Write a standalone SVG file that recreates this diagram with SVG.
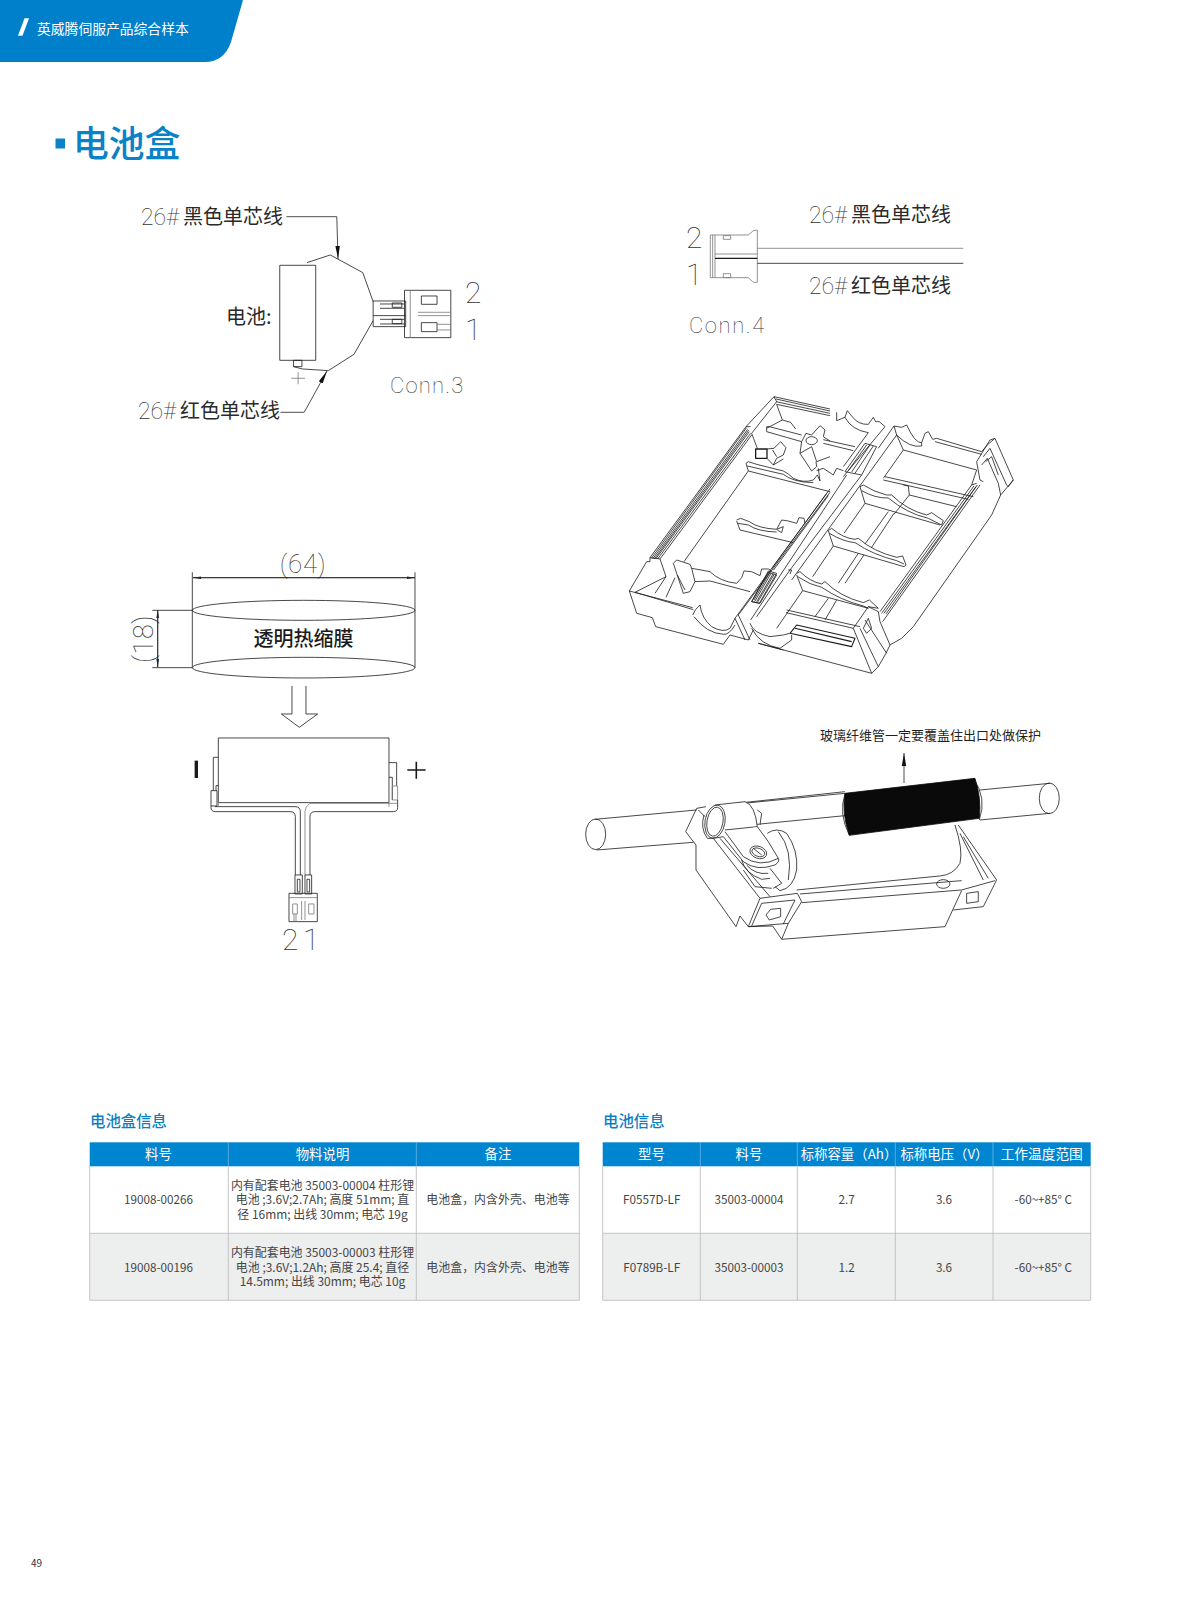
<svg xmlns="http://www.w3.org/2000/svg" width="1178" height="1600" viewBox="0 0 1178 1600">
<defs>
<marker id="ah" markerUnits="userSpaceOnUse" markerWidth="14" markerHeight="8" refX="13" refY="4" orient="auto"><path d="M0,1.8 L13,4 L0,6.2 Z" fill="#111"/></marker>
<marker id="dim" markerUnits="userSpaceOnUse" markerWidth="9" markerHeight="6" refX="8" refY="3" orient="auto"><path d="M0,1.7 L8,3 L0,4.3 Z" fill="#222"/></marker>
</defs>
<style>
text{font-family:"Noto Sans CJK SC","Noto Sans",sans-serif;}
.l path,.l rect,.l ellipse,.l line{fill:none;stroke:#1a1a1a;stroke-width:.8px;vector-effect:non-scaling-stroke;stroke-linejoin:round}
.l .g{stroke:#777}
.l .w{fill:#fff}
.lead{fill:none;stroke:#222;stroke-width:.8}
.cad{font-family:Roboto,"Liberation Sans",sans-serif;font-weight:100;fill:#333}
.cj{font-size:20px;fill:#2a2a2a}
.hd{font-size:13.4px;fill:#fff;text-anchor:middle}
.td{font-size:11.7px;fill:#454545;text-anchor:middle}
.tc{font-size:11.95px;fill:#454545;text-anchor:middle}
.tt{font-size:15.4px;font-weight:500;fill:#0b7fc4}
.gl{fill:none;stroke:#b9b9b9;stroke-width:.8}
</style>
<rect width="1178" height="1600" fill="#fff"/>

<g id="header">
<path d="M0,0 H243 L231,42 Q224,62 205,62 H0 Z" fill="#0080cb"/>
<path d="M24.5,18.3 H29 L22.5,35.7 H18 Z" fill="#fff"/>
<text x="37" y="34.2" font-size="13.8" fill="#fff">英威腾伺服产品综合样本</text>
</g>
<g id="title">
<rect x="55.5" y="138.5" width="9.5" height="10" fill="#0b82c8"/>
<text x="73" y="157" font-size="35.8" font-weight="500" fill="#0b82c8">电池盒</text>
</g>

<g id="connectors">
<path class="lead" d="M286.3,216.7 H336.8 L338,259" marker-end="url(#ah)"/>
<path class="lead" d="M280.5,412.3 H304.2 L327,371" marker-end="url(#ah)"/>
</g>

<g id="battery-wiring">
<g class="l" transform="scale(.3827,.3333)">
<rect x="731" y="796" width="94" height="285"/>
<rect x="767" y="1081" width="22" height="19"/>
<path d="M802,788 L863,765 L948,818 L975,905"/>
<path d="M767,1100 L790,1107 L858,1112 L925,1063 L975,962"/>
<path class="g" d="M761,1135 H797 M779,1117 V1153"/>
<rect x="975" y="903" width="85" height="77"/>
<path d="M975,947 H1060"/>
<path d="M993,912 H1057 M993,925 H1057 M993,958 H1057 M993,972 H1057"/>
<rect x="1025" y="909" width="25" height="13"/>
<rect x="1025" y="958" width="25" height="13"/>
<rect x="1057" y="871" width="121" height="142"/>
<path class="g" d="M1072,871 V1013 M1092,937 H1178 M1092,947 H1178"/>
<rect x="1101" y="888" width="41" height="25"/>
<rect x="1101" y="968" width="41" height="27"/>
<path class="g" d="M1142,973 H1178 M1142,990 H1178"/>
</g>
<text class="cad" x="141" y="225" font-size="23">26#</text><text class="cj" x="183" y="224">黑色单芯线</text>
<text class="cj" x="226" y="324">电池:</text>
<text class="cad" x="138" y="419" font-size="23">26#</text><text class="cj" x="180" y="418">红色单芯线</text>
<text class="cad" x="465" y="303" font-size="30">2</text>
<text class="cad" x="465" y="340" font-size="30">1</text>
<text class="cad" x="390" y="393" font-size="22" letter-spacing="1.2">Conn.3</text>
</g>

<g id="conn4">
<g class="l" transform="translate(620,180) scale(.3333)">
<path class="g" d="M271,165 H385 L400,152 L412,150 V307 L400,307 L385,293 H271 Z M278,165 V293 M285,165 V293 M285,222 H412"/>
<path d="M285,235 H412" style="stroke-width:1.2px"/>
<rect class="g" x="310" y="167" width="22" height="11"/>
<rect class="g" x="310" y="281" width="22" height="12"/>
<path class="g" d="M412,205 H1030"/>
<path d="M412,250 H1030"/>
</g>
<text class="cad" x="809" y="223" font-size="23">26#</text><text class="cj" x="851" y="222">黑色单芯线</text>
<text class="cad" x="809" y="294" font-size="23">26#</text><text class="cj" x="851" y="293">红色单芯线</text>
<text class="cad" x="686" y="248" font-size="30">2</text>
<text class="cad" x="686" y="285" font-size="30">1</text>
<text class="cad" x="689" y="333" font-size="22" letter-spacing="1.6">Conn.4</text>
</g>

<g id="heat-shrink">
<g class="l" transform="translate(120,540) scale(.3333)">
<path d="M217,97 V383 M885,97 V383 M97,211 H217 M97,383 H217"/>
<ellipse cx="551" cy="211" rx="334" ry="30"/>
<ellipse cx="551" cy="383" rx="334" ry="31"/>
<path d="M516,438 V522 H484 L538,562 L593,522 H558 V438"/>
<rect x="295" y="594" width="512" height="194"/>
<path d="M229,662 V714" style="stroke-width:3.4px"/>
<path d="M862,690 H917 M889,665 V716" style="stroke-width:1.6px"/>
<path d="M295,652 H280 V752 M288,752 V737 H295"/>
<rect x="273" y="752" width="18" height="46"/>
<path d="M807,668 H830 V738 M807,712 H817 V780"/>
<rect class="g" x="817" y="738" width="16" height="42"/>
<path d="M273,798 V803 Q273,815 287,815 H510 Q526,815 526,830 V1005"/>
<path d="M285,800 H525 Q541,800 541,815 V1005"/>
<path d="M833,780 V803 Q833,815 820,815 H585 Q570,815 570,830 V1005"/>
<path d="M833,790 H570 Q555,800 555,815 V1005" class="g"/>
<path d="M295,788 V800 M807,788 V800" class="g"/>
<rect x="525" y="1005" width="22" height="57"/>
<rect x="555" y="1005" width="20" height="57"/>
<rect x="532" y="1018" width="8" height="38"/>
<rect x="561" y="1018" width="8" height="38"/>
<rect x="507" y="1060" width="85" height="85"/>
<path class="g" d="M507,1073 H592 M545,1083 V1140 M555,1083 V1140"/>
<rect class="g" x="518" y="1092" width="14" height="30"/>
<rect class="g" x="566" y="1092" width="16" height="30"/>
<path class="g" d="M522,1122 V1145 M528,1122 V1145"/>
</g>
<text class="cad" x="303" y="573" font-size="26" text-anchor="middle" letter-spacing=".6">(64)</text>
<text class="cad" transform="translate(152.5,639) rotate(-90)" font-size="27" text-anchor="middle" letter-spacing=".6">(18)</text>
<text x="303.5" y="646" font-size="20" font-weight="500" text-anchor="middle" fill="#1a1a1a">透明热缩膜</text>
<text class="cad" x="282" y="950" font-size="30">2</text>
<text class="cad" x="303" y="950" font-size="30">1</text>
<path class="lead" d="M193,577.7 H415" marker-end="url(#dim)"/>
<path class="lead" d="M415,577.7 H193" marker-end="url(#dim)"/>
<path class="lead" d="M157.7,610 V667" marker-end="url(#dim)"/>
<path class="lead" d="M157.7,667 V610" marker-end="url(#dim)"/>
</g>

<g id="battery-box">
<!-- left half -->
<g class="l" transform="translate(620,385) scale(.3333)">
<path d="M28,618 L50,685 L97,698 L107,725 L310,778 L330,750 L385,765 L400,735"/>
<path d="M28,618 L218,668 M45,622 L220,674 M28,618 L80,530 H90 V518 L378,125 H392"/>
<path d="M94,520 L380,128 M98,522 L383,133 M103,522 L386,136 M107,522 L388,140 M113,522 L392,145 M120,522 L395,150 M90,518 L120,522 L138,575 L45,622"/>
<path d="M378,125 L462,35 L470,50 L395,145 L412,190"/>
<path d="M462,35 L630,72 M468,42 L630,78 M468,50 L630,85 M470,58 L630,92 M470,58 L487,105 L440,130"/>
<path d="M487,105 L512,112 L527,132 M440,125 H448 L545,150 M440,125 V140 L545,170"/>
<rect x="407" y="192" width="34" height="28" style="stroke-width:1.3px"/>
<path d="M441,192 L462,190 L482,170 L498,188 L490,210 L470,220 L460,240 L490,222 M441,220 L460,240 M458,195 L470,215"/>
<path d="M545,170 L558,145 L575,150 L600,122 L615,135 L610,155 L630,168 M545,170 L540,205 L575,258 L590,245 L588,230 M540,205 L575,185 L590,230 L630,215"/>
<ellipse cx="575" cy="167" rx="17" ry="12"/>
<path d="M378,235 L385,230 L410,238 L490,258 Q505,265 520,280 Q550,295 580,285 L592,270 L600,288 M595,250 L600,288 M378,235 L385,258 L630,320 M385,258 L192,530"/>
<path d="M382,243 L490,268 Q520,292 580,293"/>
<path d="M350,405 L362,400 L388,410 Q415,430 470,433 L485,405 L505,408 L530,415 L537,398 L552,400 L555,415 M350,408 L360,435 L520,473 M470,433 L490,425 L485,443 L472,435"/>
<path d="M353,415 L385,420 Q415,440 470,441"/>
<path d="M160,535 L170,525 L210,538 L215,550 L270,560 Q300,590 350,595 L365,578 L372,558 L395,560 L420,572 L425,552 L445,552 L455,558"/>
<path d="M215,550 L225,590 L270,588 L390,620 M160,535 L190,625 L210,620 L225,590 M172,570 L195,615 M165,578 L138,637 M138,575 L105,625"/>
<path d="M218,690 Q225,672 240,660 Q245,700 275,725 Q310,745 330,730 L345,700 M222,695 Q260,745 310,748 Q328,750 345,720"/>
<path d="M345,700 L375,765 M355,690 L390,765 M345,700 L630,312 M355,690 L630,322"/>
<path d="M395,650 L418,655 L470,565 L445,558 Z M402,645 L450,562 M410,650 L460,565"/>
<path d="M455,552 L620,325 M460,556 L625,332"/>
</g>
<!-- upper right of left half -->
<g class="l" transform="translate(610,380) scale(.3333)">
<path d="M680,97 V122 L705,112 L712,92 L725,108 Q745,135 775,133 M705,112 Q725,150 775,158 M775,133 L790,112 L797,125 L808,125 L825,140 L700,290 M775,158 L700,260"/>
<path d="M640,179 L735,200 M640,190 L730,212 M620,272 L640,265 L670,285 L680,265 L700,272"/>
<path d="M705,275 L755,285 L800,200 L765,190 Z M715,272 L770,195 M725,276 L780,195 M735,280 L790,198"/>
</g>
<!-- right half -->
<g class="l" transform="translate(750,420) scale(.3333)">
<path d="M25,670 L365,760 L385,740 L408,700 L420,675 L455,655 L490,620 L725,285 L752,225 L790,180 L735,55 L712,75 L695,95 L560,55 L548,58 L535,35 L525,40 L515,68 Q495,70 470,15 L455,22 L432,18"/>
<path d="M2,600 L290,165 M20,590 L120,450 L335,165 M385,85 L432,18 M440,45 L125,480 M432,18 L440,45 L460,90 L680,150 M460,90 L400,175"/>
<path d="M440,45 Q480,85 515,78 L515,68"/>
<path d="M555,65 L695,103 M680,125 L720,60 L735,55 M680,125 L690,180 L700,185 M700,110 L720,85 L770,195 L775,200 L790,180 M707,125 L725,110 L745,165 M695,135 L712,115 L745,190 L752,225"/>
<path d="M390,575 L665,195 L680,190 M395,580 L672,198 M402,580 L678,200 M408,582 L682,195 M398,605 L690,195 M680,150 L665,195"/>
<path d="M330,200 L340,195 Q370,215 410,225 L425,225 Q470,270 530,285 L545,278 L580,302 L575,315 M330,200 L345,250 L570,315"/>
<path d="M335,212 Q375,235 415,234 Q470,280 535,295 L575,315"/>
<path d="M345,250 L282,340 M415,275 L345,372 M432,280 L365,382 M250,378 L188,470 M325,400 L265,490 M342,405 L285,490 M260,540 L225,600 M235,535 L195,590"/>
<path d="M405,170 L670,230 M400,180 L655,238 M460,195 L475,198 L478,225 L432,283 M478,225 L620,260"/>
<path d="M235,332 L245,325 Q280,355 315,358 L325,355 Q370,395 440,412 L458,408 L468,435 L462,440 L250,378 Z"/>
<path d="M238,340 Q280,365 315,368 Q370,405 440,422 L462,432"/>
<path d="M140,460 L150,455 Q180,485 215,492 L225,485 Q270,530 340,548 L358,540 L385,565 M140,465 L158,512 L355,565 M158,512 L80,625"/>
<path d="M143,470 Q180,495 215,502 Q270,540 340,558 L355,565"/>
<path d="M110,570 L330,620 M108,578 L310,625"/>
<path d="M120,640 L140,615 L315,655 L305,680 L120,640 M135,625 L305,665" style="stroke-width:1.1px"/>
<path d="M0,610 Q10,640 60,650 L100,645 L120,640 M5,625 Q30,675 90,685 L125,660 L125,645 M25,670 L100,690"/>
<path d="M310,625 L355,560 L385,565 M310,625 L365,760 M330,625 L385,740 M345,600 L410,700 M385,575 L390,605 L420,675 M355,560 L385,575"/>
<path d="M340,625 L355,595 L365,625 L350,640 Z"/>
<path d="M115,450 L125,450 L120,462"/>
<path d="M5,545 L30,550 L80,465 L55,458 Z M14,545 L62,462 M22,548 L72,464"/>
</g>
</g>

<g id="bracket">
<g class="l" transform="translate(570,710) scale(.3333)">
<path d="M75,328 L380,300 M80,420 L370,397 M470,285 L825,250 M500,280 L825,245 M470,352 L835,316"/>
<ellipse cx="77" cy="373" rx="30" ry="46"/>
<path d="M1230,240 L1440,220 M1230,330 L1440,310"/>
<ellipse cx="1438" cy="265" rx="30" ry="46"/>
<path d="M1210,205 Q1252,265 1228,330"/>
<path d="M825,252 Q805,310 838,376"/>
<path d="M825,250 L1215,205 Q1235,265 1228,325 L838,376 Q815,310 825,250 Z" style="fill:#0a0a0a;stroke:#0a0a0a"/>
<path d="M1155,345 Q1180,420 1170,460 Q1150,495 1110,498 L680,540"/>
<path d="M690,552 L1175,512 M695,578 L1175,540 M635,688 L1125,650 L1175,542 M1175,540 L1275,512 M1165,345 L1280,510 L1240,590 L1150,600 M1180,380 L1255,505 M1170,370 L1240,510"/>
<path d="M1190,550 L1225,545 V575 L1190,580 Z"/>
<ellipse cx="1120" cy="522" rx="20" ry="13"/>
</g>
<g class="l" transform="translate(680,790) scale(.3333)">
<path d="M50,55 L17,125 L48,165 V240 L168,410 L180,378 L205,410 L278,408 L305,448"/>
<path d="M50,55 L78,50 M55,60 L75,80"/>
<path d="M105,45 L195,35 Q225,45 232,110 L135,120 M232,60 L245,70 L240,105" class="w"/>
<ellipse class="w" cx="105" cy="95" rx="30" ry="50" transform="rotate(10 105 95)"/>
<ellipse cx="105" cy="95" rx="24" ry="44" transform="rotate(10 105 95)"/>
<path d="M72,75 Q60,115 82,145 L100,145"/>
<path d="M262,130 Q290,110 320,130 Q355,180 350,240 Q340,295 300,302 L285,290 M295,125 Q340,180 325,270"/>
<path class="w" d="M100,145 L130,140 L190,215 Q230,245 285,225 Q300,215 295,205 L265,155 L232,110 M135,125 L190,200 Q240,235 295,205"/>
<ellipse cx="235" cy="187" rx="26" ry="18" transform="rotate(20 235 187)"/>
<ellipse cx="235" cy="187" rx="20" ry="12" transform="rotate(20 235 187)"/>
<path d="M220,175 L245,195 M185,210 Q195,250 245,268 L270,265 M200,225 Q225,255 265,250 M270,235 L305,280 L280,295"/>
<path d="M100,145 L240,325 M120,145 L270,320 M190,240 L225,290 L275,295"/>
<path d="M240,325 L352,310 L365,335 L325,400 L205,410 L240,325 M215,408 L245,340 L345,330 L310,402 M325,400 L305,448"/>
<path d="M258,375 L272,358 L302,355 V380 L268,390 Z"/>
</g>
<text x="820" y="740" font-size="13" fill="#1f1f1f">玻璃纤维管一定要覆盖住出口处做保护</text>
</g>
<g id="connector-arrow">
<path class="lead" d="M904,783 V753" marker-end="url(#ah)"/>
</g>

<g id="table-box">
<text class="tt" x="90" y="1127">电池盒信息</text>
<rect x="89.7" y="1142.3" width="489.6" height="24" fill="#0085d0"/>
<rect x="89.7" y="1233.3" width="489.6" height="67" fill="#edeeee"/>
<path class="gl" d="M89.7,1166.3 V1300.3 H579.3 V1166.3 M89.7,1233.3 H579.3 M228.3,1166.3 V1300.3 M416.3,1166.3 V1300.3"/>
<path d="M228.3,1142.3 V1166.3 M416.3,1142.3 V1166.3" stroke="#6db7e4" stroke-width=".8"/>
<text class="hd" x="158.5" y="1159">料号</text><text class="hd" x="322.5" y="1159">物料说明</text><text class="hd" x="498" y="1159">备注</text>
<text class="td" x="158.5" y="1204">19008-00266</text>
<text class="tc" x="322.5" y="1190">内有配套电池 35003-00004 柱形锂</text>
<text class="tc" x="322.5" y="1204.4">电池 ;3.6V;2.7Ah; 高度 51mm; 直</text>
<text class="tc" x="322.5" y="1218.8">径 16mm; 出线 30mm; 电芯 19g</text>
<text class="tc" x="498" y="1204">电池盒，内含外壳、电池等</text>
<text class="td" x="158.5" y="1271.6">19008-00196</text>
<text class="tc" x="322.5" y="1257.4">内有配套电池 35003-00003 柱形锂</text>
<text class="tc" x="322.5" y="1271.8">电池 ;3.6V;1.2Ah; 高度 25.4; 直径</text>
<text class="tc" x="322.5" y="1286.2">14.5mm; 出线 30mm; 电芯 10g</text>
<text class="tc" x="498" y="1271.6">电池盒，内含外壳、电池等</text>
</g>

<g id="table-cell">
<text class="tt" x="603" y="1127">电池信息</text>
<rect x="602.7" y="1142.3" width="488" height="24" fill="#0085d0"/>
<rect x="602.7" y="1233.3" width="488" height="67" fill="#edeeee"/>
<path class="gl" d="M602.7,1166.3 V1300.3 H1090.7 V1166.3 M602.7,1233.3 H1090.7 M700.3,1166.3 V1300.3 M797.3,1166.3 V1300.3 M895.3,1166.3 V1300.3 M993,1166.3 V1300.3"/>
<path d="M700.3,1142.3 V1166.3 M797.3,1142.3 V1166.3 M895.3,1142.3 V1166.3 M993,1142.3 V1166.3" stroke="#6db7e4" stroke-width=".8"/>
<text class="hd" x="651.5" y="1159">型号</text><text class="hd" x="749" y="1159">料号</text><text class="hd" x="849" y="1159">标称容量（Ah）</text><text class="hd" x="944.5" y="1159">标称电压（V）</text><text class="hd" x="1041.7" y="1159" style="font-size:13.7px">工作温度范围</text>
<text class="td" x="651.7" y="1204">F0557D-LF</text><text class="td" x="749" y="1204">35003-00004</text><text class="td" x="846.7" y="1204">2.7</text><text class="td" x="944" y="1204">3.6</text><text class="td" x="1043.3" y="1204">-60~+85° C</text>
<text class="td" x="651.7" y="1271.6">F0789B-LF</text><text class="td" x="749" y="1271.6">35003-00003</text><text class="td" x="846.7" y="1271.6">1.2</text><text class="td" x="944" y="1271.6">3.6</text><text class="td" x="1043.3" y="1271.6">-60~+85° C</text>
</g>

<text id="page-number" x="31" y="1567" font-size="10" fill="#333">49</text>
</svg>
